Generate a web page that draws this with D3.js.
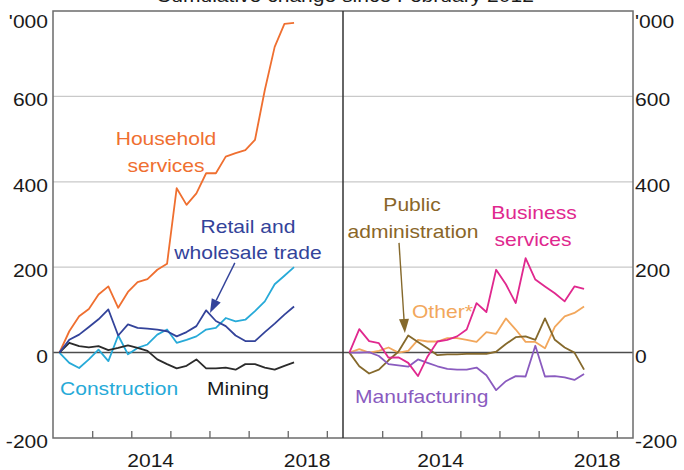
<!DOCTYPE html>
<html>
<head>
<meta charset="utf-8">
<script src="https://cdn.jsdelivr.net/npm/d3@7"></script>
<style>
  body { margin: 0; background: #fff; }
  svg { display: block; font-family: 'Liberation Sans', Arial, sans-serif; }
</style>
</head>
<body>
<div id="chart-area"></div>
<script>

// quarterly observations, cumulative change since Feb 2012 ('000)
const quarters = [
  '2012-02', '2012-05', '2012-08', '2012-11',
  '2013-02', '2013-05', '2013-08', '2013-11',
  '2014-02', '2014-05', '2014-08', '2014-11',
  '2015-02', '2015-05', '2015-08', '2015-11',
  '2016-02', '2016-05', '2016-08', '2016-11',
  '2017-02', '2017-05', '2017-08', '2017-11',
  '2018-02'
];

const household = [0, 50, 85, 102, 136, 155, 105, 142, 165, 172, 194, 208, 385, 346, 373, 420, 420, 459, 467, 474, 498, 615, 716, 770, 772];
const retail = [0, 30, 42, 60, 78, 101, 40, 66, 58, 56, 54, 50, 38, 48, 62, 99, 74, 62, 40, 27, 27, 48, 68, 89, 108];
const construction = [0, -24, -36, -16, 7, -20, 40, -4, 11, 19, 42, 54, 23, 30, 38, 54, 58, 81, 73, 77, 97, 120, 160, 180, 200];
const mining = [0, 23, 15, 12, 15, 6, 11, 17, 11, 4, -16, -27, -37, -31, -16, -37, -37, -35, -40, -27, -27, -35, -40, -31, -23];

const business = [0, 55, 27, 22, -12, -11, -24, -55, -9, 26, 30, 38, 54, 116, 95, 194, 160, 116, 221, 171, 155, 139, 120, 155, 149];
const other = [0, 8, 0, 4, 12, 0, 4, 30, 26, 26, 34, 34, 30, 25, 48, 44, 80, 54, 25, 25, 10, 60, 85, 93, 108];
const publicAdmin = [0, -32, -49, -40, -18, 2, 40, 25, 10, -6, -4, -4, -3, -3, -3, 2, 20, 36, 38, 30, 80, 30, 12, 0, -40];
const manufacturing = [0, 0, 1, -8, -27, -30, -33, -16, -24, -32, -38, -40, -40, -35, -53, -88, -67, -55, -56, 16, -56, -55, -58, -64, -50];

const yTicks = [-200, 0, 200, 400, 600, 800];
const yTickLabels = ['-200', '0', '200', '400', '600', '\'000'];
const yearTicks = [2013, 2014, 2015, 2016, 2017, 2018, 2019];
const yearLabels = [2014, 2018];

const width = 684;
const height = 470;
const margin = { left: 53, right: 51, top: 11, bottom: 32 };
const panelW = (width - margin.left - margin.right) / 2;
const plotH = height - margin.top - margin.bottom;
const SX = 1.17; // the source text is set slightly wide
const fontSize = 18;

const parseQ = d3.timeParse('%Y-%m');
// observations sit at the end of their month
const dates = quarters.map(q => d3.timeMonth.offset(parseQ(q), 1));

const panels = [
  [
    { values: household, color: '#ef6f30' },
    { values: construction, color: '#27aad8' },
    { values: mining, color: '#2b2b2b' },
    { values: retail, color: '#33439a' }
  ],
  [
    { values: other, color: '#f2a75c' },
    { values: publicAdmin, color: '#85692c' },
    { values: manufacturing, color: '#8a5bbf' },
    { values: business, color: '#e0288e' }
  ]
];

const scaleX = d3.scaleTime()
  .domain([new Date(2012, 0, 1), new Date(2019, 5, 1)])
  .range([0, panelW]);

const scaleY = d3.scaleLinear()
  .domain([-200, 800])
  .range([plotH, 0]);

const svg = d3.select('#chart-area').append('svg')
  .attr('width', width)
  .attr('height', height);

const g = svg.append('g')
  .attr('transform', `translate(${margin.left}, ${margin.top})`);

function label(sel, x, y, str, color, anchor) {
  return sel.append('text')
    .attr('transform', `translate(${x}, ${y}) scale(${SX}, 1)`)
    .attr('text-anchor', anchor || 'middle')
    .attr('font-size', fontSize)
    .attr('fill', color || '#1a1a1a')
    .text(str);
}

function arrow(sel, from, to, color) {
  const [x1, y1] = from;
  const [x2, y2] = to;
  const a = Math.atan2(y2 - y1, x2 - x1);
  const L = 14, W = 5;
  const bx = x2 - L * Math.cos(a);
  const by = y2 - L * Math.sin(a);
  sel.append('line')
    .attr('x1', x1).attr('y1', y1)
    .attr('x2', bx).attr('y2', by)
    .attr('stroke', color)
    .attr('stroke-width', 1.4);
  sel.append('path')
    .attr('d', `M${x2},${y2}L${bx + W * Math.sin(a)},${by - W * Math.cos(a)}L${bx - W * Math.sin(a)},${by + W * Math.cos(a)}Z`)
    .attr('fill', color);
}

// title, cut off at the top of the image as in the source
label(svg, 345, 2, 'Cumulative change since February 2012', '#1a1a1a');

// gridlines
g.selectAll('.grid')
  .data([200, 400, 600])
  .enter().append('line')
    .attr('class', 'grid')
    .attr('x1', 0)
    .attr('x2', panelW * 2)
    .attr('y1', d => scaleY(d))
    .attr('y2', d => scaleY(d))
    .attr('stroke', '#c9c9c9')
    .attr('stroke-width', 1.3);

g.append('line')
  .attr('x1', 0)
  .attr('x2', panelW * 2)
  .attr('y1', scaleY(0))
  .attr('y2', scaleY(0))
  .attr('stroke', '#4d4d4d')
  .attr('stroke-width', 1.5);

const line = d3.line()
  .x((d, i) => scaleX(dates[i]))
  .y(d => scaleY(d));

panels.forEach((series, p) => {
  const pg = g.append('g')
    .attr('transform', `translate(${p * panelW}, 0)`);

  pg.append('g')
    .attr('transform', `translate(0, ${plotH})`)
    .call(d3.axisBottom(scaleX)
      .tickValues(yearTicks.map(y => new Date(y, 0, 1)))
      .tickSize(-7)
      .tickFormat(''))
    .call(ax => ax.select('.domain').remove())
    .call(ax => ax.selectAll('line').attr('stroke', '#666').attr('stroke-width', 1.3));

  yearLabels.forEach(y => {
    label(pg, scaleX(new Date(y, 6, 1)), height - margin.top - 3, y, '#1a1a1a');
  });

  series.forEach(s => {
    pg.append('path')
      .datum(s.values)
      .attr('d', line)
      .attr('fill', 'none')
      .attr('stroke', s.color)
      .attr('stroke-width', 1.8)
      .attr('stroke-linejoin', 'round');
  });
});

// frame and panel divider
g.append('rect')
  .attr('x', 0)
  .attr('y', 0)
  .attr('width', panelW * 2)
  .attr('height', plotH)
  .attr('fill', 'none')
  .attr('stroke', '#6b6b6b')
  .attr('stroke-width', 1.5);

g.append('line')
  .attr('x1', panelW)
  .attr('x2', panelW)
  .attr('y1', 0)
  .attr('y2', plotH)
  .attr('stroke', '#333')
  .attr('stroke-width', 1.5);

// y tick labels, both sides
yTicks.forEach((v, i) => {
  const ty = Math.max(scaleY(v) + 10, 17);
  label(g, -5, ty, yTickLabels[i], '#1a1a1a', 'end');
  label(g, panelW * 2 + 2, ty, yTickLabels[i], '#1a1a1a', 'start');
});

// series labels, left panel
const left = g;
const right = g.append('g').attr('transform', `translate(${panelW}, 0)`);

label(left, 113, 134, 'Household', '#ef6f30');
label(left, 113, 161, 'services', '#ef6f30');
label(left, 195, 222, 'Retail and', '#33439a');
label(left, 195, 248, 'wholesale trade', '#33439a');
label(left, 7, 384, 'Construction', '#27aad8', 'start');
label(left, 154, 384, 'Mining', '#1a1a1a', 'start');

arrow(left,
  [scaleX(new Date(2016, 7, 25)), scaleY(210)],
  [scaleX(new Date(2016, 0, 6)), scaleY(93)],
  '#33439a');

// right panel
label(right, 69, 200, 'Public', '#8a6628');
label(right, 70, 227, 'administration', '#8a6628');
label(right, 191, 208, 'Business', '#e0288e');
label(right, 190, 235, 'services', '#e0288e');
label(right, 69, 307, 'Other*', '#f2a75c', 'start');
label(right, 12, 392, 'Manufacturing', '#8a5bbf', 'start');

arrow(right,
  [scaleX(new Date(2013, 5, 7)), scaleY(257)],
  [scaleX(new Date(2013, 7, 1)), scaleY(46)],
  '#85692c');

</script>
</body>
</html>
